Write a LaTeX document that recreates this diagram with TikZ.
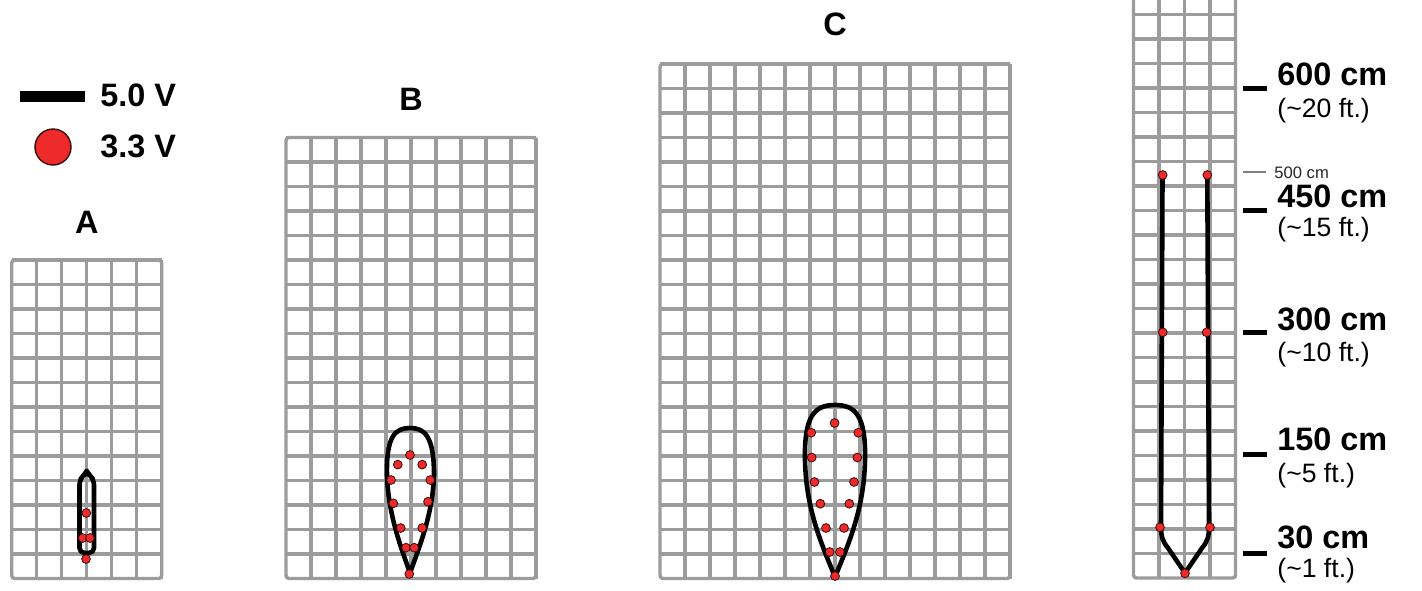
\documentclass[tikz,border=0pt]{standalone}
\usepackage{fontspec}
\setmainfont{Liberation Sans}
\definecolor{gridgray}{HTML}{9C9C9C}
\definecolor{dotred}{HTML}{EE2A2A}
\definecolor{dotedge}{HTML}{3A0A0A}
\newcommand\mygrid[6]{%
  \pgfmathsetmacro\gxa{#1+#3*#5}%
  \pgfmathsetmacro\gya{#2-#4*#6}%
  \foreach \i in {1,...,#3} {\draw[gridline] ({#1+\i*#5},#2) -- ({#1+\i*#5},\gya);}%
  \foreach \j in {1,...,#4} {\draw[gridline] (#1,{#2-\j*#6}) -- (\gxa,{#2-\j*#6});}%
  \draw[gridline, rounded corners=1.5pt] (#1,#2) rectangle (\gxa,\gya);%
}
\tikzset{
  gridline/.style={draw=gridgray, line width=1.7pt},
  shapeline/.style={draw=black, line width=2.3pt, line join=round},
  vdot/.style={circle, fill=dotred, draw=dotedge, line width=0.4pt, inner sep=0pt, minimum size=4.4pt},
  bigtxt/.style={font=\bfseries\fontsize{16.2}{19}\selectfont, inner sep=0pt},
  fttxt/.style={font=\fontsize{13.3}{15}\selectfont, inner sep=0pt},
  smalltxt/.style={font=\fontsize{8.3}{10}\selectfont, inner sep=0pt, text=black!85},
  tickmark/.style={draw=black, line width=2.5pt},
  thintick/.style={draw=gray, line width=1pt},
}
\begin{document}
\begin{tikzpicture}[x=0.5pt, y=-0.5pt]
\clip (0,0) rectangle (1422,590);
\fill[white] (0,0) rectangle (1422,590);

% legend
\coordinate (lgA) at (20,96);
\coordinate (lgB) at (85,96);
\draw[line width=5.5pt] (lgA) -- (lgB);
\node[bigtxt, anchor=base west] (l50) at (100,106) {5.0 V};
\node[circle, fill=dotred, draw=dotedge, line width=0.7pt, minimum size=18pt, inner sep=0pt] (l33dot) at (53,147) {};
\node[bigtxt, anchor=base west] (l33) at (100,157) {3.3 V};

% grids
\mygrid{11.7}{578.5}{6}{13}{25}{24.5}
\mygrid{286}{578.5}{10}{18}{25}{24.5}
\mygrid{660}{578.5}{14}{21}{25}{24.5}
\mygrid{1133.5}{578}{4}{25}{25.5}{24.5}

% titles
\node[bigtxt, anchor=base] (tA) at (86.7,233) {A};
\node[bigtxt, anchor=base] (tB) at (411,110) {B};
\node[bigtxt, anchor=base] (tC) at (835,35) {C};

% shape A
\draw[shapeline, rounded corners=2.5pt] (79.5,480) -- (84,475) -- (86.7,471) -- (89.4,475) -- (94,480) -- (94,553) -- (79.5,553) -- cycle;
\foreach \p [count=\k] in {{86.3,513},{82.7,538},{90,538},{86,559}}
  \node[vdot] (a\k) at (\p) {};

% shape B
\draw[shapeline] (410,573) .. controls (402,550) and (388,515) .. (387,475)
  .. controls (386,435) and (396,428) .. (410,428)
  .. controls (424,428) and (434,435) .. (434,475)
  .. controls (433,515) and (418,550) .. (410,573);
\foreach \p [count=\k] in {{410,455},{397.8,464.6},{422.2,464.6},{391,480},{430.3,480},{393.3,503.3},{428,501.7},{400.7,528},{422.2,528},{406,547.7},{414.3,547.7},{409.3,574}}
  \node[vdot] (b\k) at (\p) {};

% shape C
\draw[shapeline] (835,577) .. controls (822,545) and (806,510) .. (805,460)
  .. controls (804,415) and (815,405) .. (835,405)
  .. controls (855,405) and (866,415) .. (865,460)
  .. controls (864,510) and (848,545) .. (835,577);
\foreach \p [count=\k] in {{834.6,423},{811.2,432.7},{858.3,432.7},{811.7,457.5},{857.3,457.5},{814.5,482},{854,482},{820.3,503.7},{849.3,503.7},{826,528},{844,528},{829.7,552},{840,552},{835,576}}
  \node[vdot] (c\k) at (\p) {};

% shape D
\draw[shapeline] (1162.5,175) -- (1161,527) .. controls (1161,537) and (1163,542) .. (1168,548) -- (1185,573) -- (1202,548) .. controls (1207,542) and (1209,537) .. (1209,527) -- (1207.3,175);
\foreach \p [count=\k] in {{1162.7,175},{1207.3,175},{1162.7,332.3},{1206.7,332.3},{1160,527.3},{1210,527.3},{1185,573.3}}
  \node[vdot] (d\k) at (\p) {};

% scale ticks and labels
\coordinate (t600a) at (1243,88);  \coordinate (t600b) at (1267,88);
\coordinate (t500a) at (1243,172); \coordinate (t500b) at (1266,172);
\coordinate (t450a) at (1243,210); \coordinate (t450b) at (1267,210);
\coordinate (t300a) at (1243,332); \coordinate (t300b) at (1267,332);
\coordinate (t150a) at (1243,454); \coordinate (t150b) at (1267,454);
\coordinate (t30a) at (1243,553);  \coordinate (t30b) at (1267,553);
\draw[tickmark] (t600a) -- (t600b);
\draw[thintick] (t500a) -- (t500b);
\draw[tickmark] (t450a) -- (t450b);
\draw[tickmark] (t300a) -- (t300b);
\draw[tickmark] (t150a) -- (t150b);
\draw[tickmark] (t30a) -- (t30b);

\node[bigtxt, anchor=base west] (s600) at (1277,85) {600 cm};
\node[fttxt, anchor=base west] (f600) at (1277,117.5) {(\textasciitilde20 ft.)};
\node[smalltxt, anchor=base west] (s500) at (1274,178) {500 cm};
\node[bigtxt, anchor=base west] (s450) at (1277,207) {450 cm};
\node[fttxt, anchor=base west] (f450) at (1277,236.5) {(\textasciitilde15 ft.)};
\node[bigtxt, anchor=base west] (s300) at (1277,330) {300 cm};
\node[fttxt, anchor=base west] (f300) at (1277,361.5) {(\textasciitilde10 ft.)};
\node[bigtxt, anchor=base west] (s150) at (1277,450) {150 cm};
\node[fttxt, anchor=base west] (f150) at (1277,482.5) {(\textasciitilde5 ft.)};
\node[bigtxt, anchor=base west] (s30) at (1277,548) {30 cm};
\node[fttxt, anchor=base west] (f30) at (1277,577.5) {(\textasciitilde1 ft.)};
\end{tikzpicture}
\end{document}
